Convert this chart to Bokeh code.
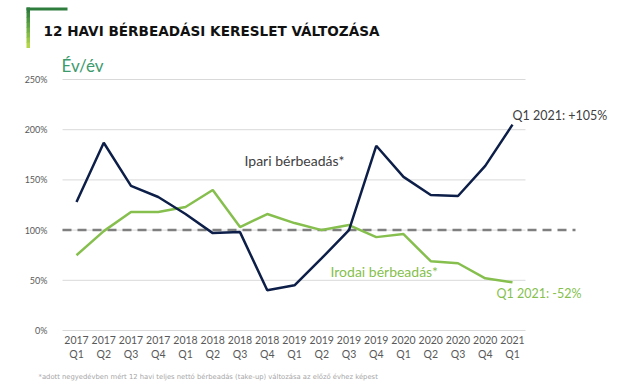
from bokeh.plotting import figure
from bokeh.models import Range1d, FixedTicker, Label, BoxAnnotation, ColumnDataSource
from bokeh.embed import file_html
from bokeh.resources import INLINE

years = ["2017", "2017", "2017", "2017", "2018", "2018", "2018", "2018", "2019",
         "2019", "2019", "2019", "2020", "2020", "2020", "2020", "2021"]
quarters = ["Q1", "Q2", "Q3", "Q4", "Q1", "Q2", "Q3", "Q4", "Q1",
            "Q2", "Q3", "Q4", "Q1", "Q2", "Q3", "Q4", "Q1"]
ipari = [128, 187, 144, 133, 116, 97, 98, 40, 45, 72, 100, 184, 153, 135, 134, 164, 205]
irodai = [75, 99, 118, 118, 123, 140, 103, 116, 107, 100, 105, 93, 96, 69, 67, 52, 48]
y_ticks = [0, 50, 100, 150, 200, 250]
y_tick_labels = ["0%", "50%", "100%", "150%", "200%", "250%"]
baseline = 100

NAVY = "#0d1f48"
GREEN = "#86bf4e"
GRAY_TXT = "#595959"

W = 624
HEAD_H = 50
FOOT_H = 13
MAIN_H = 385 - HEAD_H - FOOT_H

def blank(h):
    f = figure(width=W, height=h, output_backend="svg", toolbar_location=None,
               x_range=Range1d(0, W), y_range=Range1d(h, 0),
               min_border=0, x_axis_location=None, y_axis_location=None)
    f.outline_line_color = None
    f.grid.visible = False
    return f

def lab(fig, text, x, y, size, color, font="Lato", style="normal"):
    fig.add_layout(Label(x=x, y=y, text=text, text_font=font,
                         text_font_size=size, text_color=color, text_font_style=style,
                         text_baseline="middle", text_align="left"))

# ---------- header ----------
head = blank(HEAD_H)
head.add_layout(BoxAnnotation(left=26, right=67, top=7, bottom=10,
                              fill_color="#2f7d3c", fill_alpha=1, line_color=None))
grad = ["#2f7d3c", "#3d8a3e", "#4c9640", "#5da342", "#70b044", "#86bd46", "#9cc948", "#b2d54a"]
seg_h = 40 / len(grad)
for i, c in enumerate(grad):
    head.add_layout(BoxAnnotation(left=26, right=29.5, top=7 + i * seg_h,
                                  bottom=7 + (i + 1) * seg_h + 0.5,
                                  fill_color=c, fill_alpha=1, line_color=None))
lab(head, "12 HAVI BÉRBEADÁSI KERESLET VÁLTOZÁSA", 43, 30, "13.6px", "#111111",
    font="DejaVu Sans", style="bold")

# ---------- main chart ----------
OFF = HEAD_H
X0, XS = 76.0, 27.25
Y0, YS = 330.0, 1.004
def dx(px):
    return (px - X0) / XS
def dy(py):
    return (Y0 - py) / YS

n = len(ipari)
xs = list(range(n))
frame_bottom = 332

p = figure(width=W, height=MAIN_H, output_backend="svg", toolbar_location=None,
           x_range=Range1d(dx(58), dx(W)), y_range=Range1d(dy(frame_bottom), dy(OFF)),
           min_border_left=58, min_border_right=0, min_border_top=0,
           min_border_bottom=OFF + MAIN_H - frame_bottom)
p.outline_line_color = None
p.xgrid.visible = False
p.ygrid.visible = False

p.xaxis.ticker = FixedTicker(ticks=xs)
p.xaxis.major_label_overrides = {i: f"{years[i]}\n{quarters[i]}" for i in xs}
p.xaxis.axis_line_color = None
p.xaxis.major_tick_line_color = None
p.xaxis.major_tick_out = 0
p.xaxis.minor_tick_line_color = None
p.xaxis.major_label_standoff = 1
p.xaxis.major_label_text_font = "Lato"
p.xaxis.major_label_text_font_size = "10.5px"
p.xaxis.major_label_text_color = GRAY_TXT

p.yaxis.ticker = FixedTicker(ticks=y_ticks)
p.yaxis.major_label_overrides = {t: l for t, l in zip(y_ticks, y_tick_labels)}
p.yaxis.axis_line_color = None
p.yaxis.major_tick_line_color = None
p.yaxis.minor_tick_line_color = None
p.yaxis.major_label_standoff = 5
p.yaxis.major_label_text_font = "Lato"
p.yaxis.major_label_text_font_size = "9px"
p.yaxis.major_label_text_color = GRAY_TXT

gl = list(y_ticks)
p.segment(x0=[dx(62)] * len(gl), x1=[dx(525)] * len(gl), y0=gl, y1=gl,
          line_color="#d9d9d9", line_width=1)
p.segment(x0=[dx(62)], x1=[dx(575)], y0=[baseline], y1=[baseline],
          line_color="#7f7f7f", line_width=2.5, line_dash="9 6")

src = ColumnDataSource(dict(x=xs, ipari=ipari, irodai=irodai))
p.line("x", "irodai", source=src, line_color=GREEN, line_width=2.5)
p.line("x", "ipari", source=src, line_color=NAVY, line_width=2.5)

def plab(text, px, py, size, color):
    lab(p, text, dx(px), dy(py), size, color)

plab("Év/év", 61, 65, "17px", "#3c9a6c")
plab("Ipari bérbeadás*", 244, 160, "14px", "#404040")
plab(f"Q1 2021: +{ipari[-1] - 100}%", 512, 115, "12.5px", "#404040")
plab("Irodai bérbeadás*", 330, 271, "14px", GREEN)
plab(f"Q1 2021: -{100 - irodai[-1]}%", 496, 293, "12.5px", GREEN)

# ---------- footer ----------
foot = blank(FOOT_H)
lab(foot, "*adott negyedévben mért 12 havi teljes nettó bérbeadás (take-up) változása az előző évhez képest",
    38, 376 - (385 - FOOT_H), "6.8px", "#a6a6a6", font="DejaVu Sans")

open("out.html", "w").write(file_html([head, p, foot], INLINE))
